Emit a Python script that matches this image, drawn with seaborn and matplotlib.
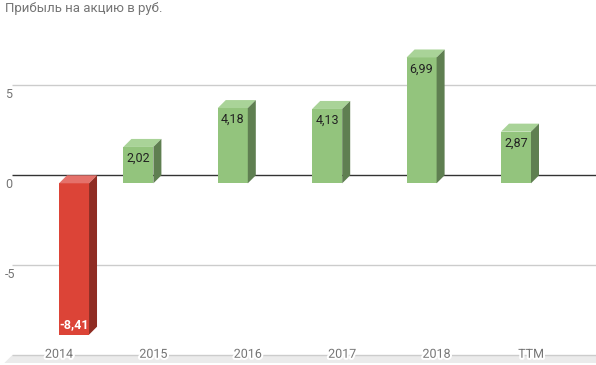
import matplotlib
matplotlib.use("Agg")
import matplotlib.pyplot as plt
from matplotlib.patches import Polygon
import matplotlib.patheffects as pe
import seaborn as sns
import pandas as pd
import numpy as np

# ---- data ----
categories = ["2014", "2015", "2016", "2017", "2018", "TTM"]
eps_values = [-8.41, 2.02, 4.18, 4.13, 6.99, 2.87]
y_ticks = [-5, 0, 5]
y_tick_labels = ["-5", "0", "5"]
title = "Прибыль на акцию в руб."

df = pd.DataFrame({
    "year": categories,
    "eps": eps_values,
    "sign": ["neg" if v < 0 else "pos" for v in eps_values],
})

sns.set_theme(style="white")
plt.rcParams["font.family"] = ["Roboto", "DejaVu Sans"]

W, H = 596, 365
fig = plt.figure(figsize=(W / 100, H / 100), dpi=100)

# front-plane geometry (pixels)
px_per_unit_y = 18.0
zero_front = 183.3
y_lo, y_hi = -10, 10
top_px = zero_front - y_hi * px_per_unit_y
bot_px = zero_front - y_lo * px_per_unit_y
cat0_px, cat_step = 59.0, 94.4
left_px, right_px = 4.0, 612.0
x_lo = (left_px - cat0_px) / cat_step
x_hi = (right_px - cat0_px) / cat_step

ax = fig.add_axes([left_px / W, (H - bot_px) / H,
                   (right_px - left_px) / W, (bot_px - top_px) / H])
ax.set_facecolor("none")

front = {"pos": "#93c47d", "neg": "#dc4437"}
topc = {"pos": "#a9d398", "neg": "#e5716a"}
sidec = {"pos": "#5f7f51", "neg": "#8f2c23"}

sns.barplot(data=df, x="year", y="eps", hue="sign", hue_order=["pos", "neg"],
            palette=front, dodge=True, width=0.636, saturation=1,
            linewidth=0, legend=False, ax=ax, zorder=3)

ax.set_xlim(x_lo, x_hi)
ax.set_ylim(y_lo, y_hi)

# depth offset in data units (8px right, 8px up)
inv = ax.transData.inverted()
o = ax.transData.transform((0, 0))
d = inv.transform((o[0] + 8, o[1] + 8))
dx, dy = d[0], d[1]

# back wall gridlines
for v in y_ticks:
    col = "#333333" if v == 0 else "#cccccc"
    ax.plot([x_lo + dx, x_hi], [v + dy, v + dy], color=col, lw=1, zorder=1,
            solid_capstyle="butt")

# floor
ax.add_patch(Polygon([(x_lo, y_lo), (x_hi, y_lo), (x_hi + dx, y_lo + dy),
                      (x_lo + dx, y_lo + dy)], closed=True,
                     facecolor="#ebebeb", edgecolor="none", zorder=1))
ax.plot([x_lo + dx, x_hi], [y_lo + dy, y_lo + dy], color="#cccccc", lw=1,
        zorder=1.5, solid_capstyle="butt")

# 3D faces and labels
for key, cont in zip(["pos", "neg"], ax.containers):
    for rect in cont:
        h = rect.get_height()
        if not np.isfinite(h):
            continue
        x0 = rect.get_x()
        x1 = x0 + rect.get_width()
        y0 = rect.get_y()
        ytop = max(y0, y0 + h)
        ybot = min(y0, y0 + h)
        ax.add_patch(Polygon([(x0, ytop), (x1, ytop), (x1 + dx, ytop + dy),
                              (x0 + dx, ytop + dy)], closed=True,
                             facecolor=topc[key], edgecolor="none", zorder=3))
        ax.add_patch(Polygon([(x1, ybot), (x1, ytop), (x1 + dx, ytop + dy),
                              (x1 + dx, ybot + dy)], closed=True,
                             facecolor=sidec[key], edgecolor="none", zorder=3))
        val = y0 + h
        lab = f"{val:.2f}".replace(".", ",")
        cx = (x0 + x1) / 2
        if val >= 0:
            ax.annotate(lab, xy=(cx, ytop), xytext=(0, -8.4),
                        textcoords="offset points", ha="center", va="center",
                        fontsize=9, color="#222222", zorder=4)
        else:
            ax.annotate(lab, xy=(cx, ybot), xytext=(0, 7.6),
                        textcoords="offset points", ha="center", va="center",
                        fontsize=9, color="white", fontweight="bold", zorder=4)

# axes styling
ax.set_axisbelow(False)
ax.xaxis.set_zorder(2.5)
ax.yaxis.set_zorder(2.5)
for s in ax.spines.values():
    s.set_visible(False)
ax.set_xlabel("")
ax.set_ylabel("")
ax.set_yticks(y_ticks)
ax.set_yticklabels(y_tick_labels)
ax.tick_params(axis="y", length=0, pad=-0.8, labelsize=9, labelcolor="#757575")
for t in ax.get_yticklabels():
    t.set_horizontalalignment("left")
ax.tick_params(axis="x", length=0, pad=-6.5, labelsize=9, labelcolor="#757575")
for t in ax.get_xticklabels():
    t.set_verticalalignment("center")
    t.set_path_effects([pe.withStroke(linewidth=3, foreground="white")])

fig.text(5 / W, 1 - 8.5 / H, title, ha="left", va="center", fontsize=9.5,
         color="#757575")

fig.savefig("out.png", dpi=100)
